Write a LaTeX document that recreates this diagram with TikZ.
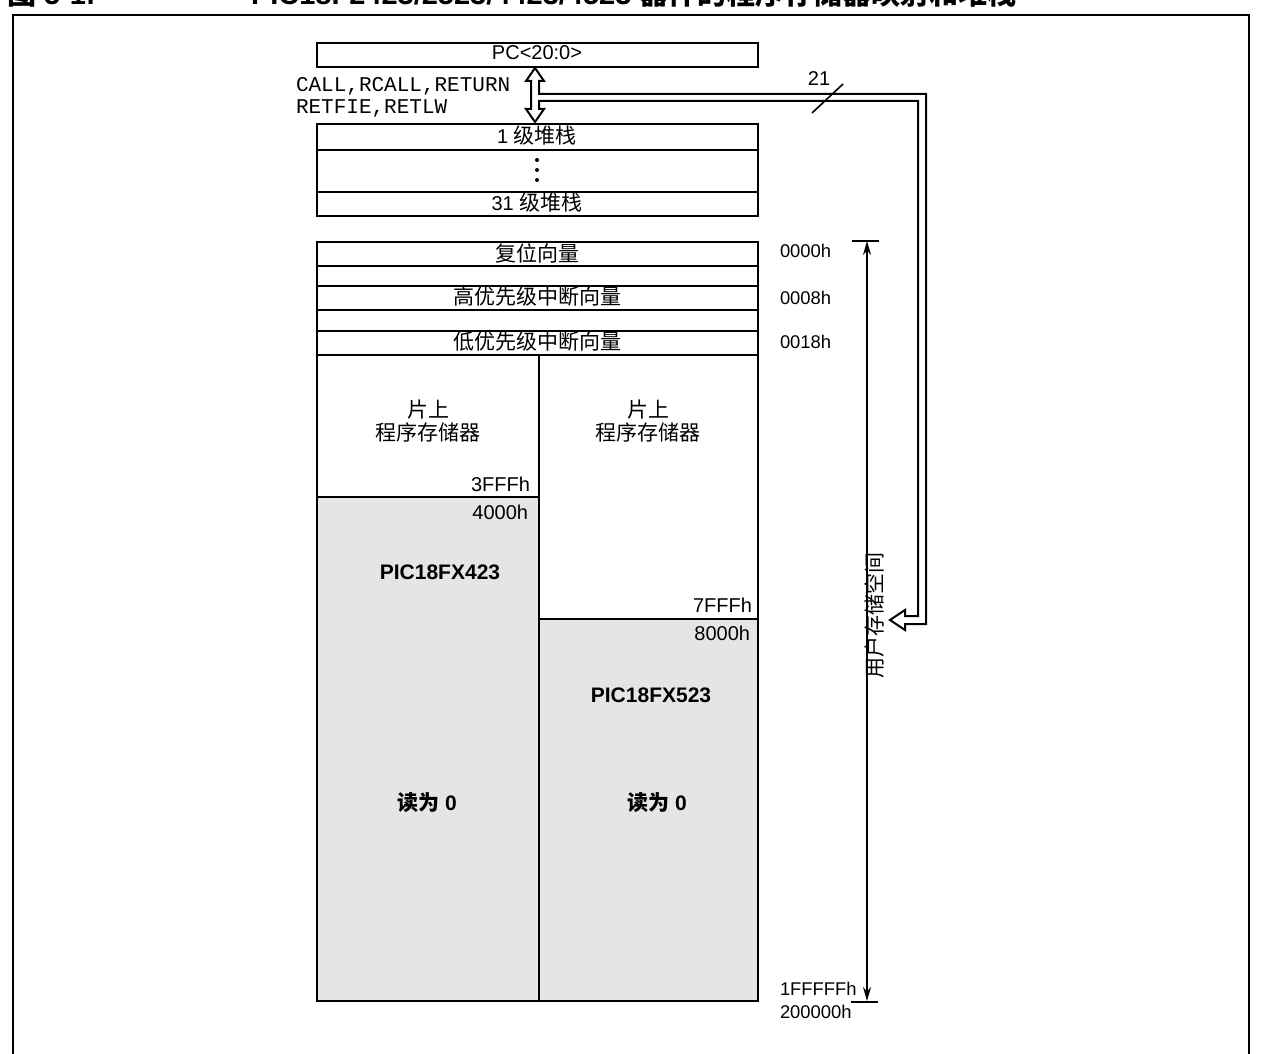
\documentclass[tikz,border=0pt]{standalone}
\usepackage{fontspec}
\setmainfont{Liberation Sans}
\setmonofont{Liberation Mono}
\newfontfamily\cjk{Noto Sans CJK SC}
\usetikzlibrary{arrows.meta}
\begin{document}
\begin{tikzpicture}[x=0.5pt,y=-0.5pt,line width=1pt,
  cell/.style={draw,rectangle,inner sep=0pt,anchor=north west,line width=1pt},
  wide/.style={minimum width=220.5pt},
  lcol/.style={minimum width=111pt},
  rcol/.style={minimum width=109.5pt},
  shade/.style={fill=gray!20},
  lbl/.style={inner sep=0pt,font=\fontsize{9.2}{10}\selectfont},
  blbl/.style={inner sep=0pt,font=\fontsize{10}{11}\selectfont},
  cn/.style={inner sep=0pt,font=\fontsize{10.5}{12}\selectfont\cjk},
  bld/.style={inner sep=0pt,font=\fontsize{10.5}{12}\selectfont\bfseries},
  mono/.style={inner sep=0pt,font=\fontsize{10.5}{12}\selectfont\ttfamily,anchor=west},
  ttl/.style={inner sep=0pt,anchor=base west,font=\fontsize{14.5}{16}\selectfont\bfseries},
]
\useasboundingbox (0,0) rectangle (1261,1053);
\clip (0,0) rectangle (1261,1053);

% title (cut off at top)
\node[ttl] (t1) at (6,5) {{\cjk\bfseries 图} 5-1:};
\node[ttl] (t2) at (250,5) {PIC18F2423/2523/4423/4523 {\cjk\bfseries 器件的程序存储器映射和堆栈}};

% outer frame
\draw[line width=1pt] (13,1070) -- (13,15) -- (1249,15) -- (1249,1070);

% PC and stack
\node[cell,wide,minimum height=12pt] (pc) at (316,42) {};
\node[blbl] (pct) at (537,53) {PC<20:0>};
\node[cell,wide,minimum height=13pt] (s1) at (316,123) {};
\node[blbl] (s1t) at (537,136) {1 {\cjk\fontsize{10.5}{12}\selectfont 级堆栈}};
\node[cell,wide,minimum height=21pt] (sd) at (316,149) {};
\foreach \yy in {160,170,180} \fill (537,\yy) circle[radius=2];
\node[cell,wide,minimum height=12pt] (s31) at (316,191) {};
\node[blbl] (s31t) at (537,203) {31 {\cjk\fontsize{10.5}{12}\selectfont 级堆栈}};

\node[mono] (m1) at (295,86) {CALL,RCALL,RETURN};
\node[mono] (m2) at (295,108) {RETFIE,RETLW};

% hollow arrow / bus
\draw[line width=1pt,fill=white,line join=miter]
  (535,68) -- (544,81) -- (539,81) -- (539,94) -- (926,94) -- (926,624)
  -- (905,624) -- (905,630) -- (890,620) -- (905,610) -- (905,616)
  -- (918,616) -- (918,101) -- (539,101) -- (539,109) -- (544,109)
  -- (535,122) -- (526,109) -- (531,109) -- (531,81) -- (526,81) -- cycle;
\node[blbl] (n21) at (819,79) {21};
\draw[line width=0.8pt] (812,113) -- (843,84);

% program memory
\node[cell,wide,minimum height=12pt] (rv) at (316,241) {};
\node[cn] (rvt) at (537,253) {复位向量};
\node[cell,wide,minimum height=10pt] (b1) at (316,265) {};
\node[cell,wide,minimum height=12pt] (hi) at (316,285) {};
\node[cn] (hit) at (537,297) {高优先级中断向量};
\node[cell,wide,minimum height=10.5pt] (b2) at (316,309) {};
\node[cell,wide,minimum height=12pt] (lo) at (316,330) {};
\node[cn] (lot) at (537,342) {低优先级中断向量};

\node[cell,lcol,minimum height=71pt] (lw) at (316,354) {};
\node[cell,lcol,minimum height=252pt,shade] (lg) at (316,496) {};
\node[cell,rcol,minimum height=132pt] (rw) at (538,354) {};
\node[cell,rcol,minimum height=191pt,shade] (rg) at (538,618) {};

\node[cn] (lw1) at (428,410) {片上};
\node[cn] (lw2) at (428,432) {程序存储器};
\node[cn] (rw1) at (648,410) {片上};
\node[cn] (rw2) at (648,432) {程序存储器};

\node[blbl,anchor=east] (a3f) at (531,484) {3FFFh};
\node[blbl,anchor=east] (a40) at (529,512) {4000h};
\node[blbl,anchor=east] (a7f) at (753,605) {7FFFh};
\node[blbl,anchor=east] (a80) at (751,633) {8000h};

\node[bld] (p423) at (440,572) {PIC18FX423};
\node[bld] (p523) at (651,695) {PIC18FX523};
\node[bld] (r0a) at (427,803) {{\cjk\bfseries 读为} 0};
\node[bld] (r0b) at (657,803) {{\cjk\bfseries 读为} 0};

\node[lbl,anchor=west] (ad0) at (779,251) {0000h};
\node[lbl,anchor=west] (ad8) at (779,298) {0008h};
\node[lbl,anchor=west] (ad18) at (779,342) {0018h};
\node[lbl,anchor=west] (adf) at (779,989) {1FFFFFh};
\node[lbl,anchor=west] (ad2) at (779,1012) {200000h};

% user memory space dimension
\coordinate (dtop) at (867,241);
\coordinate (dbot) at (867,1001);
\draw (852,241) -- (879,241);
\draw (851,1002) -- (878,1002);
\draw[line width=1pt,{Stealth[length=7pt,width=4pt]}-{Stealth[length=7pt,width=4pt]}] (dtop) -- (dbot);
\node[cn,rotate=90] (ums) at (875,615) {用户存储空间};
\end{tikzpicture}
\end{document}
